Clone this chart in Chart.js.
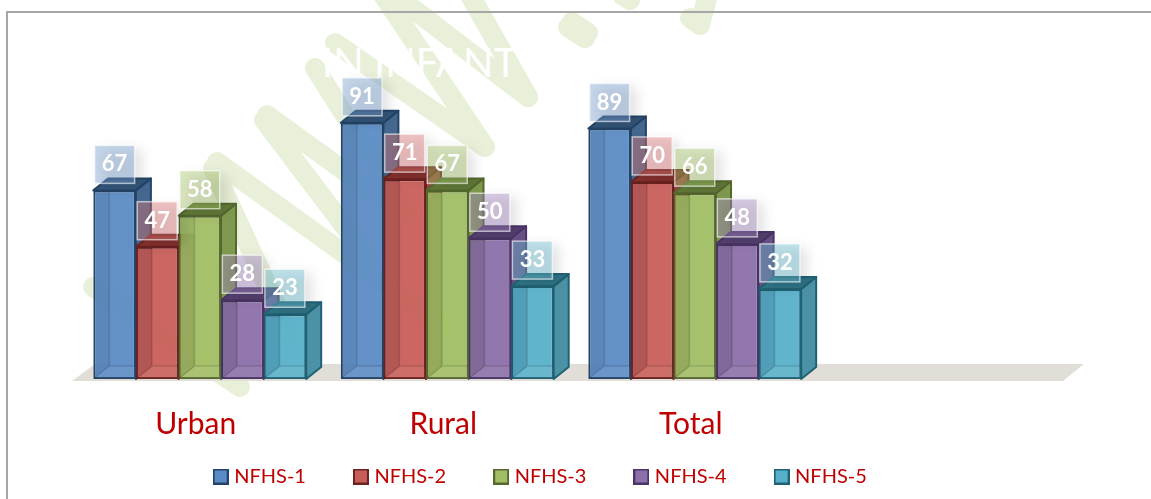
<!DOCTYPE html>
<html><head><meta charset="utf-8">
<style>html,body{margin:0;padding:0;background:#fff}#w{position:relative;width:1151px;height:499px}</style>
<script src="https://cdn.jsdelivr.net/npm/chart.js@4"></script>
</head><body><div id="w"><canvas id="c" width="1151" height="499"></canvas></div>
<script>
const categories = ["Urban","Rural","Total",""];
const seriesNames = ["NFHS-1","NFHS-2","NFHS-3","NFHS-4","NFHS-5"];
const nfhs1 = [67,91,89,null];
const nfhs2 = [47,71,70,null];
const nfhs3 = [58,67,66,null];
const nfhs4 = [28,50,48,null];
const nfhs5 = [23,33,32,null];
const seriesValues = [nfhs1,nfhs2,nfhs3,nfhs4,nfhs5];
const titleText = "IN INFANT";
const fronts = ["rgba(91,139,197,.95)","rgba(200,94,90,.95)","rgba(161,190,100,.95)","rgba(140,112,170,.95)","rgba(87,176,201,.95)"];
const solids = ["#5b8bc5","#c85e5a","#a1be64","#8c70aa","#57b0c9"];
const edges = ["#234468","#6b2220","#55682f","#4a3566","#1f6273"];
const sides = ["#44688f","#9c4542","#7f9a4e","#6a5288","#4c92a6"];
const tops = ["#345579","#84302e","#617a38","#54406f","#2f7386"];
const tints = ["rgba(120,160,210,.42)","rgba(225,120,120,.42)","rgba(165,195,105,.42)","rgba(165,135,195,.42)","rgba(110,190,210,.42)"];
const DX = 15, DY = 12;
const bands = [[383,-5,485,147],[395,-5,528,97],[467,-10,528,97],[335,43,485,147],[315,68,407,213],
  [267,115,405,215],[264,120,370,260],[217,162,450,330],[213,168,290,335],[93,287,240,387],
  [568,27,585,38],[572,22,588,33],[622,-5,630,0],[690,18,700,25],[700,25,707,-2]];

function poly(ctx,pts,fill,stroke,lw){ctx.beginPath();pts.forEach((p,i)=>i?ctx.lineTo(p[0],p[1]):ctx.moveTo(p[0],p[1]));ctx.closePath();
  if(fill){ctx.fillStyle=fill;ctx.fill()} if(stroke){ctx.strokeStyle=stroke;ctx.lineWidth=lw||2;ctx.lineJoin='round';ctx.stroke()}}

function swatch(i){
  const k=document.createElement('canvas');k.width=16;k.height=16;
  const g=k.getContext('2d');g.fillStyle=solids[i];g.fillRect(1,1,14,14);
  g.strokeStyle=edges[i];g.lineWidth=2;g.strokeRect(1,1,14,14);
  return k;
}

const deco = {
  id:'deco',
  afterLayout(chart){
    const x=chart.scales.x; x.height=66; x.bottom=x.top+66;
    chart.legend.top+=5; chart.legend.bottom+=5;
  },
  beforeDatasetsDraw(chart){
    const ctx=chart.ctx, a=chart.chartArea;
    ctx.save();
    ctx.strokeStyle='#e8f0d9';ctx.lineWidth=20;ctx.lineCap='round';
    bands.forEach(b=>{ctx.beginPath();ctx.moveTo(b[0],b[1]);ctx.lineTo(b[2],b[3]);ctx.stroke()});
    ctx.strokeStyle='#a6a6a6';ctx.lineWidth=2;ctx.lineCap='butt';
    ctx.beginPath();ctx.moveTo(7,499);ctx.lineTo(7,12);ctx.lineTo(1151,12);ctx.stroke();
    ctx.fillStyle='#ffffff';ctx.font='40px Lato';ctx.textAlign='left';ctx.textBaseline='middle';
    ctx.fillText(titleText,322,64);
    poly(ctx,[[a.left-4,a.bottom+2],[a.left+19,a.bottom-15],[a.right+18,a.bottom-15],[a.right-3,a.bottom+2]],'#e0ded7');
    for(let c=0;c<categories.length;c++){
      seriesValues.forEach((vals,s)=>{
        if(vals[c]==null)return;
        const b=chart.getDatasetMeta(s).data[c], l=b.x-b.width/2, r=b.x+b.width/2, t=b.y, y0=b.base;
        poly(ctx,[[r,y0],[r+DX,y0-DY],[r+DX,t-DY],[r,t]],sides[s],edges[s],2);
        poly(ctx,[[l,t],[l+DX,t-DY],[r+DX,t-DY],[r,t]],tops[s],edges[s],2);
      });
    }
    ctx.restore();
  },
  afterDatasetsDraw(chart){
    const ctx=chart.ctx;
    ctx.save();
    seriesValues.forEach((vals,s)=>{
      chart.getDatasetMeta(s).data.forEach((b,c)=>{
        if(vals[c]==null)return;
        const l=b.x-b.width/2+1, r=b.x+b.width/2-1, t=b.y+1, y0=b.base-1;
        poly(ctx,[[l,t],[l+DX,t],[l+DX,y0-DY],[l,y0]],'rgba(0,0,0,.07)');
        poly(ctx,[[l,y0],[l+DX,y0-DY],[r,y0-DY],[r,y0]],'rgba(255,255,255,.06)');
        ctx.strokeStyle='rgba(0,0,0,.13)';ctx.lineWidth=1.5;
        ctx.beginPath();ctx.moveTo(l+DX,t);ctx.lineTo(l+DX,y0-DY);ctx.lineTo(r,y0-DY);ctx.moveTo(l+DX,y0-DY);ctx.lineTo(l,y0);ctx.stroke();
      });
    });
    seriesValues.forEach((vals,s)=>{
      chart.getDatasetMeta(s).data.forEach((b,c)=>{
        if(vals[c]==null)return;
        const cx=b.x, cy=b.y-26;
        ctx.save();
        ctx.shadowColor='rgba(0,0,0,.28)';ctx.shadowBlur=12;ctx.shadowOffsetX=7;ctx.shadowOffsetY=4;
        ctx.fillStyle=tints[s];ctx.fillRect(cx-20,cy-19,40,38);
        ctx.restore();
        ctx.strokeStyle='rgba(255,255,255,.6)';ctx.lineWidth=1.5;ctx.strokeRect(cx-20,cy-19,40,38);
        ctx.fillStyle='#fff';ctx.font='bold 22px Lato';ctx.textAlign='center';ctx.textBaseline='middle';
        ctx.fillText(String(vals[c]),cx,cy);
      });
    });
    ctx.restore();
  }
};

new Chart(document.getElementById('c'),{
  type:'bar',
  data:{labels:categories,datasets:seriesNames.map((n,i)=>({label:n,data:seriesValues[i],backgroundColor:fronts[i],borderColor:edges[i],borderWidth:2,borderSkipped:false,pointStyle:swatch(i)}))},
  options:{
    responsive:false,animation:false,
    layout:{padding:{left:18,right:85,top:97.5,bottom:7.5}},
    datasets:{bar:{categoryPercentage:.86,barPercentage:1}},
    scales:{
      x:{grid:{display:false},border:{display:false},
        ticks:{color:'#c00000',font:{family:'Lato',size:30},padding:19,labelOffset:-4,maxRotation:0},
        afterFit(s){s.height=31}},
      y:{min:0,max:100,grid:{display:false},border:{display:false},ticks:{display:false},afterFit(s){s.width=58}}
    },
    plugins:{
      tooltip:{enabled:false},
      legend:{position:'bottom',labels:{usePointStyle:true,pointStyleWidth:7,boxHeight:15,padding:51.5,color:'#c00000',font:{family:'Lato',size:20}}}
    }
  },
  plugins:[deco]
});
</script></body></html>
